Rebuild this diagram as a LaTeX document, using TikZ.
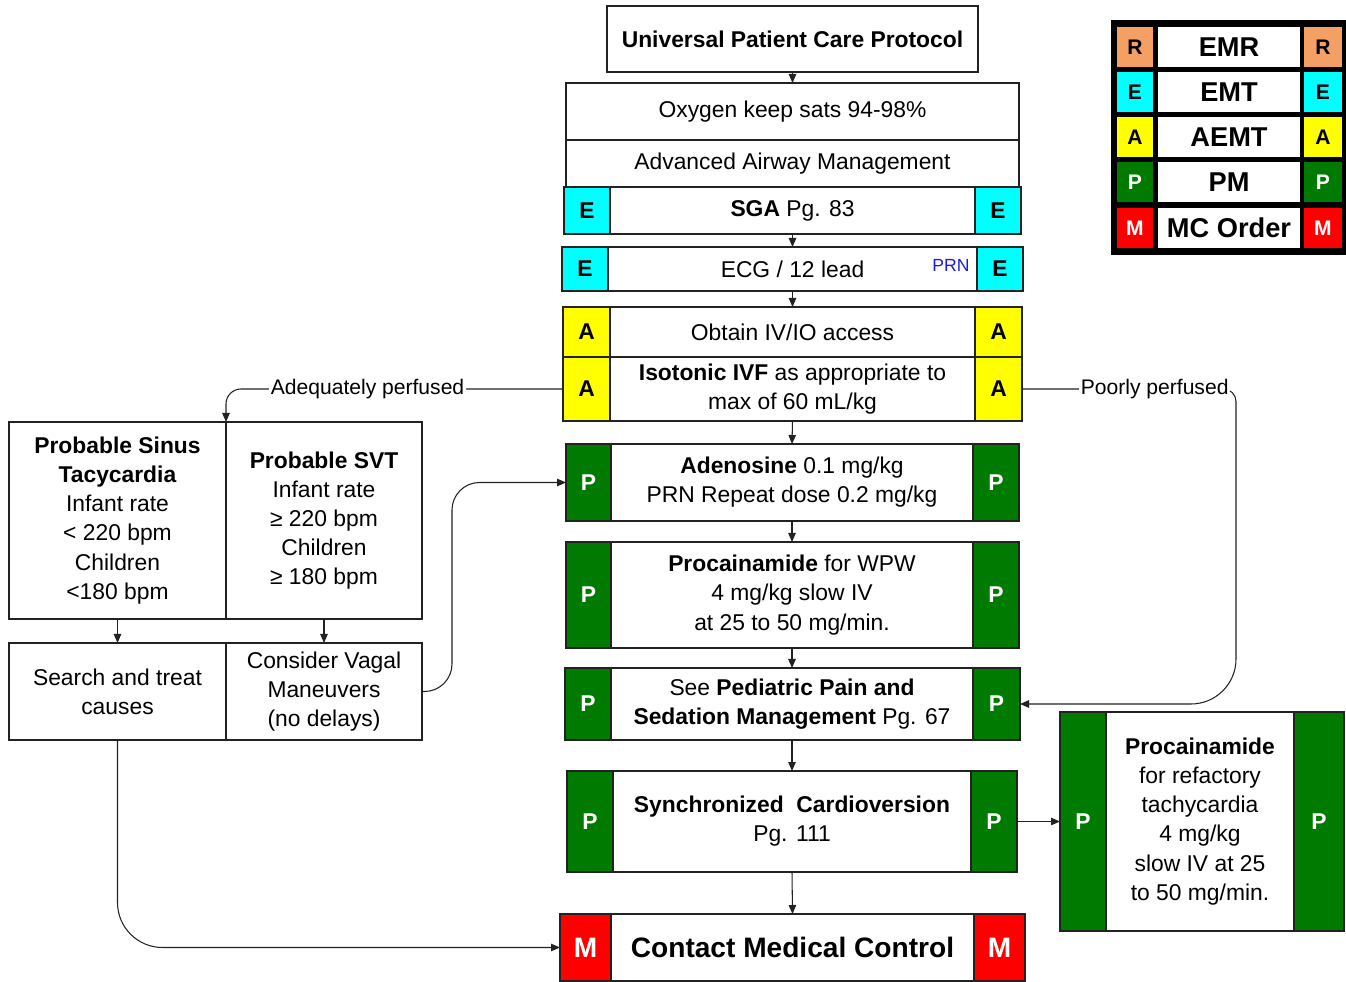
\documentclass[tikz,border=0pt]{standalone}
\usepackage{fontspec}
\setmainfont{Liberation Sans}
\usetikzlibrary{arrows.meta}
\definecolor{tagCyan}{HTML}{00FFFF}
\definecolor{tagYellow}{HTML}{FFFF00}
\definecolor{tagGreen}{HTML}{007A00}
\definecolor{tagRed}{HTML}{FF0000}
\definecolor{tagOrange}{HTML}{F4A064}
\definecolor{prnBlue}{HTML}{1A1AE6}
\definecolor{lineDark}{HTML}{222222}
\tikzset{
  sz/.style 2 args={minimum width=#1*0.02cm, minimum height=#2*0.02cm},
  stepbox/.style={rectangle, draw=lineDark, fill=white, line width=1pt, align=center, inner sep=1pt, outer sep=0pt, font=\fontsize{13}{16.6}\selectfont},
  tagbase/.style={rectangle, draw=lineDark, line width=1pt, inner sep=0pt, outer sep=0pt, font=\fontsize{13}{15}\selectfont\bfseries},
  etag/.style={tagbase, fill=tagCyan},
  atag/.style={tagbase, fill=tagYellow},
  ptag/.style={tagbase, fill=tagGreen, text=white},
  mtag/.style={tagbase, fill=tagRed, text=white, font=\fontsize{16}{18}\selectfont\bfseries},
  flowarrow/.style={-{Triangle[length=1.8mm,width=1.5mm]}, line width=0.6pt, draw=lineDark},
  pathlabel/.style={fill=white, inner sep=1pt, font=\fontsize{12}{14}\selectfont},
  legendcell/.style={rectangle, inner sep=0pt, outer sep=0pt, font=\fontsize{12}{14}\selectfont\bfseries},
}

\begin{document}
\begin{tikzpicture}[x=0.02cm, y=-0.02cm]
  \useasboundingbox (0,0) rectangle (1346,982);

  % main column
  \node[stepbox, sz={371}{66}, font=\fontsize{13}{16.6}\selectfont\bfseries] (ucp) at (792.5,39) {Universal Patient Care Protocol};
  \node[stepbox, sz={453}{57}] (oxy) at (792.5,111.5) {Oxygen keep sats 94-98\%};
  \node[stepbox, sz={453}{47}] (airway) at (792.5,163.5) {Advanced Airway Management};
  \node[etag, sz={46}{47}] (sgaL) at (587,210.5) {E};
  \node[stepbox, sz={365}{47}] (sga) at (792.5,210.5) {\textbf{SGA} Pg. 83};
  \node[etag, sz={46}{47}] (sgaR) at (998,210.5) {E};

  \node[etag, sz={46}{44}] (ecgL) at (585,269) {E};
  \node[stepbox, sz={369}{44}] (ecg) at (792.5,269) {ECG / 12 lead};
  \node[etag, sz={46}{44}] (ecgR) at (1000,269) {E};
  \node[font=\fontsize{10}{12}\selectfont, text=prnBlue, inner sep=0pt] (prn) at (951,265) {PRN};

  \node[atag, sz={47}{50}] (ivL) at (586.5,332) {A};
  \node[stepbox, sz={365}{50}] (iv) at (792.5,332) {Obtain IV/IO access};
  \node[atag, sz={47}{50}] (ivR) at (998.5,332) {A};
  \node[atag, sz={47}{64}] (ivfL) at (586.5,389) {A};
  \node[stepbox, sz={365}{64}] (ivf) at (792.5,389) {\textbf{Isotonic IVF} as appropriate to\\max of 60 mL/kg};
  \node[atag, sz={47}{64}] (ivfR) at (998.5,389) {A};

  \node[ptag, sz={45}{77}] (adenoL) at (588.5,482.5) {P};
  \node[stepbox, sz={362}{77}] (adeno) at (792,482.5) {\textbf{Adenosine} 0.1 mg/kg\\PRN Repeat dose 0.2 mg/kg};
  \node[ptag, sz={46}{77}] (adenoR) at (996,482.5) {P};

  \node[ptag, sz={45}{106}] (wpwL) at (588.5,595) {P};
  \node[stepbox, sz={362}{106}] (wpw) at (792,595) {\textbf{Procainamide} for WPW\\4 mg/kg slow IV\\at 25 to 50 mg/min.};
  \node[ptag, sz={46}{106}] (wpwR) at (996,595) {P};

  \node[ptag, sz={46}{72}] (painL) at (588,704) {P};
  \node[stepbox, sz={362}{72}] (pain) at (792,704) {See \textbf{Pediatric Pain and}\\\textbf{Sedation Management} Pg. 67};
  \node[ptag, sz={47}{72}] (painR) at (996.5,704) {P};

  \node[ptag, sz={46}{101}] (syncL) at (590,821.5) {P};
  \node[stepbox, sz={358}{101}] (sync) at (792,821.5) {\textbf{Synchronized\ \ Cardioversion}\\Pg. 111};
  \node[ptag, sz={46}{101}] (syncR) at (994,821.5) {P};

  \node[mtag, sz={51}{67}] (mccL) at (585.5,947.5) {M};
  \node[stepbox, sz={363}{67}, font=\fontsize{16}{18}\selectfont\bfseries] (mcc) at (792.5,947.5) {Contact Medical Control};
  \node[mtag, sz={51}{67}] (mccR) at (999.5,947.5) {M};

  % refractory box
  \node[ptag, sz={46}{219}] (refrL) at (1083,821.5) {P};
  \node[stepbox, sz={188}{219}] (refr) at (1200,821.5) {\textbf{Procainamide}\\for refactory\\tachycardia\\4 mg/kg\\slow IV at 25\\to 50 mg/min.};
  \node[ptag, sz={50}{219}] (refrR) at (1319,821.5) {P};

  % left branch
  \node[stepbox, sz={217}{197}] (sinus) at (117.5,520.5) {\textbf{Probable Sinus}\\\textbf{Tacycardia}\\Infant rate\\< 220 bpm\\Children\\<180 bpm};
  \node[stepbox, sz={196}{197}] (svt) at (324,520.5) {\textbf{Probable SVT}\\Infant rate\\≥ 220 bpm\\Children\\≥ 180 bpm};
  \node[stepbox, sz={217}{97}] (search) at (117.5,691.5) {Search and treat\\causes};
  \node[stepbox, sz={196}{97}] (vagal) at (324,691.5) {Consider Vagal\\Maneuvers\\(no delays)};

  % legend
  \node[fill=black, inner sep=0pt, outer sep=0pt, sz={235}{235}] (legend) at (1228.5,137.5) {};
  \foreach \y/\c/\t/\n/\txt in {47/tagOrange/black/R/EMR, 92/tagCyan/black/E/EMT, 137/tagYellow/black/A/AEMT, 182/tagGreen/white/P/PM, 228/tagRed/white/M/MC Order} {
    \node[legendcell, fill=\c, text=\t, sz={36}{40}] (lgL\n) at (1135,\y) {\n};
    \node[legendcell, fill=white, sz={142}{40}, font=\fontsize{15.5}{18}\selectfont\bfseries] (lg\n) at (1229,\y) {\txt};
    \node[legendcell, fill=\c, text=\t, sz={38}{40}] (lgR\n) at (1323,\y) {\n};
  }

  % connectors
  \foreach \a/\b in {ucp/oxy, sga/ecg, ecg/iv, ivf/adeno, adeno/wpw, wpw/pain, pain/sync, sync/mcc, sinus/search, svt/vagal} { \draw[flowarrow] (\a.south) -- (\b.north); }
  \draw[flowarrow] (syncR.east) -- (refrL.west);

  \draw[flowarrow, rounded corners=0.3cm] (ivfL.west) -| node[pathlabel, pos=0.29] {Adequately perfused} (sinus.north east);

  \coordinate (ppturn) at (1236,550);
  \draw[flowarrow, rounded corners=0.25cm] (ivfR.east) -| node[pathlabel, pos=0.31] {Poorly perfused} (ppturn) [rounded corners=0.9cm] |- (painR.east);

  \coordinate (vgturn) at (452,600);
  \draw[flowarrow, rounded corners=0.55cm] (vagal.east) -| (vgturn) |- (adenoL.west);

  \draw[flowarrow, rounded corners=0.9cm] (search.south) |- (mccL.west);
\end{tikzpicture}
\end{document}
